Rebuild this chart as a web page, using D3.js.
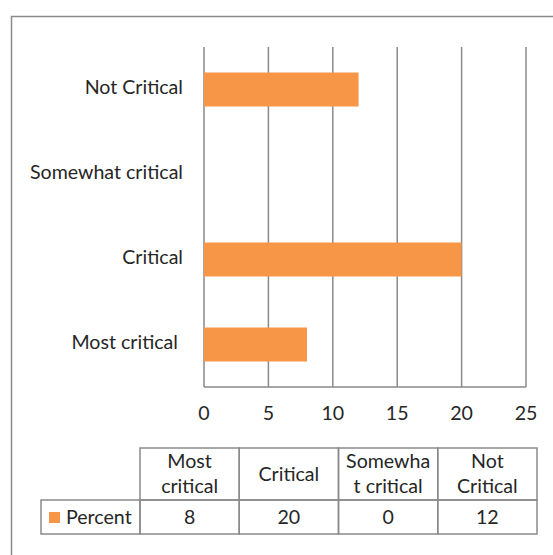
<!DOCTYPE html>
<html>
<head>
<meta charset="utf-8">
<script src="https://cdn.jsdelivr.net/npm/d3@7"></script>
<style>
  body { margin: 0; background: #fff; }
  svg { display: block; font-family: Lato, "Liberation Sans", sans-serif; }
</style>
</head>
<body>
<svg id="chart" width="553" height="555"></svg>
<script>
// datos del grafico
const categorias = ['Most critical', 'Critical', 'Somewhat critical', 'Not Critical'];
const porcentajes = [8, 20, 0, 12];
const ticksX = [0, 5, 10, 15, 20, 25];
const nombreSerie = 'Percent';
// encabezados de la tabla, cortados como en el original
const encabezados = [['Most', 'critical'], ['Critical'], ['Somewha', 't critical'], ['Not', 'Critical']];

const datos = categorias.map((c, i) => ({ categoria: c, valor: porcentajes[i], encabezado: encabezados[i] }));

const svg = d3.select('#chart');
const gris = '#8a8a8a';
const naranja = '#F79646';
const fs = 19.6;
const tinta = '#262626';

// borde exterior
svg.append('rect')
    .attr('x', 11.5).attr('y', 16.5)
    .attr('width', 600).attr('height', 600)
    .attr('fill', 'none').attr('stroke', gris).attr('stroke-width', 1.5);

const x = d3.scaleLinear().domain([0, 25]).range([204, 526]);
const y = d3.scaleBand()
    .domain(categorias.slice().reverse())
    .range([47, 387])
    .paddingInner(0.6)
    .paddingOuter(0.3);

// lineas de cuadricula
svg.append('g')
    .selectAll('line')
    .data(ticksX)
    .join('line')
    .attr('x1', d => x(d)).attr('x2', d => x(d))
    .attr('y1', 47).attr('y2', 387)
    .attr('stroke', gris).attr('stroke-width', 1.5);

svg.append('line')
    .attr('x1', x(0)).attr('x2', x(25))
    .attr('y1', 387).attr('y2', 387)
    .attr('stroke', gris).attr('stroke-width', 1.5);

// barras
svg.append('g')
    .selectAll('rect')
    .data(datos)
    .join('rect')
    .attr('x', x(0))
    .attr('y', d => y(d.categoria))
    .attr('width', d => x(d.valor) - x(0))
    .attr('height', y.bandwidth())
    .attr('fill', naranja);

// etiquetas del eje y
svg.append('g')
    .selectAll('text')
    .data(datos)
    .join('text')
    .attr('x', d => d.categoria === 'Most critical' ? 178 : 183)
    .attr('y', d => y(d.categoria) + y.bandwidth() / 2 - 2)
    .attr('dy', '0.35em')
    .attr('text-anchor', 'end')
    .attr('font-size', fs)
    .attr('fill', tinta)
    .text(d => d.categoria);

// etiquetas del eje x
svg.append('g')
    .selectAll('text')
    .data(ticksX)
    .join('text')
    .attr('x', d => x(d))
    .attr('y', 413)
    .attr('dy', '0.35em')
    .attr('text-anchor', 'middle')
    .attr('font-size', fs)
    .attr('fill', tinta)
    .text(d => d);

// tabla de datos
const col = d3.scaleBand().domain(categorias).range([140, 537]);
const filaTop = 448, filaMedio = 500, filaBottom = 534;

const tabla = svg.append('g');
const celdas = tabla.selectAll('g')
    .data(datos)
    .join('g');

celdas.append('rect')
    .attr('x', d => col(d.categoria))
    .attr('y', filaTop)
    .attr('width', col.bandwidth())
    .attr('height', filaMedio - filaTop)
    .attr('fill', 'none').attr('stroke', gris).attr('stroke-width', 1.5);

celdas.append('rect')
    .attr('x', d => col(d.categoria))
    .attr('y', filaMedio)
    .attr('width', col.bandwidth())
    .attr('height', filaBottom - filaMedio)
    .attr('fill', 'none').attr('stroke', gris).attr('stroke-width', 1.5);

celdas.each(function(d) {
    const g = d3.select(this);
    const cx = col(d.categoria) + col.bandwidth() / 2;
    const n = d.encabezado.length;
    const cy = (filaTop + filaMedio) / 2;
    d.encabezado.forEach((linea, i) => {
        g.append('text')
            .attr('x', cx)
            .attr('y', cy + (i - (n - 1) / 2) * 25)
            .attr('dy', '0.35em')
            .attr('text-anchor', 'middle')
            .attr('font-size', fs)
            .attr('fill', tinta)
            .text(linea);
    });
    g.append('text')
        .attr('x', cx)
        .attr('y', (filaMedio + filaBottom) / 2)
        .attr('dy', '0.35em')
        .attr('text-anchor', 'middle')
        .attr('font-size', fs)
        .attr('fill', tinta)
        .text(d.valor);
});

// celda de leyenda
tabla.append('rect')
    .attr('x', 41).attr('y', filaMedio)
    .attr('width', 140 - 41).attr('height', filaBottom - filaMedio)
    .attr('fill', 'none').attr('stroke', gris).attr('stroke-width', 1.5);

tabla.append('rect')
    .attr('x', 49).attr('y', 512)
    .attr('width', 11).attr('height', 11)
    .attr('fill', naranja);

tabla.append('text')
    .attr('x', 66)
    .attr('y', (filaMedio + filaBottom) / 2)
    .attr('dy', '0.35em')
    .attr('font-size', fs)
    .attr('fill', tinta)
    .text(nombreSerie);
</script>
</body>
</html>
